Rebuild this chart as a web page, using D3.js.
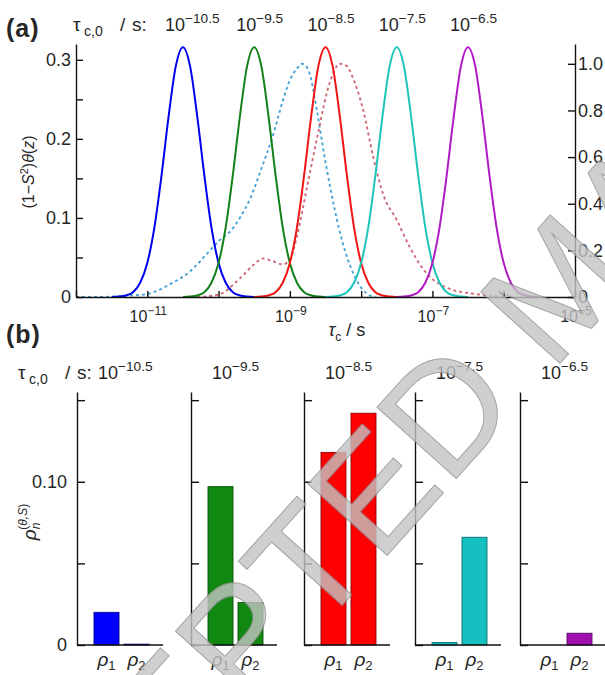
<!DOCTYPE html>
<html><head><meta charset="utf-8">
<script src="https://cdn.jsdelivr.net/npm/d3@7"></script>
<style>
body{margin:0;background:#fff}
svg{display:block}
text{font-family:"Liberation Sans",Arial,Helvetica,sans-serif;fill:#262626}
</style>
</head><body><svg id="c" width="605" height="675"></svg>
<script>
// ---------------- data ----------------
const tauC0Exp    = [-10.5, -9.5, -8.5, -7.5, -6.5];          // log10(tau_c0 / s)
const tauC0Labels = ["−10.5", "−9.5", "−8.5", "−7.5", "−6.5"];
const lineColors  = ["#0000ee", "#13801a", "#f01414", "#1ec4bc", "#b01ac4"];
const barColors   = ["#0000ff", "#118811", "#ff0000", "#14c0c0", "#a010b0"];

// shape of each solid peak: offset (decades) from tau_c0 -> (1-S^2)theta(z)
const profileOffset = [-1.0,-0.9,-0.8,-0.7,-0.6,-0.5,-0.4,-0.3,-0.2,-0.1,0,0.1,0.2,0.3,0.4,0.5,0.6,0.7,0.8,0.9,1.0];
const profileValue  = [0,0.0005,0.002,0.006,0.018,0.043,0.088,0.154,0.229,0.292,0.316,0.292,0.229,0.154,0.088,0.043,0.018,0.006,0.002,0.0005,0];

// dashed curves (right axis)
const dashBlueLogTau = [-12,-11.66,-11.3,-11.0,-10.68,-10.4,-10.12,-9.98,-9.84,-9.7,-9.56,-9.4,-9.24,-9.1,-9.0,-8.9,-8.83,-8.75,-8.62,-8.54,-8.44,-8.3,-8.15,-8.0,-7.9,-7.8];
const dashBlueValue  = [0,0,0.005,0.013,0.055,0.11,0.2,0.245,0.28,0.34,0.42,0.55,0.69,0.84,0.93,0.98,1.0,0.98,0.80,0.65,0.48,0.28,0.13,0.04,0.01,0];
const dashRedLogTau  = [-10.3,-10.0,-9.7,-9.5,-9.38,-9.25,-9.1,-9.0,-8.9,-8.76,-8.62,-8.44,-8.3,-8.2,-8.13,-7.97,-7.83,-7.69,-7.5,-7.32,-7.13,-6.8,-6.33,-6.0];
const dashRedValue   = [0,0.01,0.08,0.14,0.165,0.155,0.14,0.16,0.26,0.47,0.68,0.92,1.0,0.99,0.95,0.80,0.60,0.44,0.33,0.215,0.12,0.04,0.01,0];

// axis ticks
const leftTicks   = [0,0.05,0.1,0.15,0.2,0.25,0.3];
const leftLabels  = {0:"0",0.1:"0.1",0.2:"0.2",0.3:"0.3"};
const rightTicks  = [0,0.2,0.4,0.6,0.8,1.0];
const rightLabels = ["0","0.2","0.4","0.6","0.8","1.0"];
const decadeTicks = [-12,-11,-10,-9,-8,-7,-6,-5];
const decadeLabels= [-11,-9,-7,-5];

// panel (b) bars
const barNames = ["ρ1","ρ2"];
const rho1 = [0.020, 0.097, 0.118, 0.0015, 0];
const rho2 = [0.0005, 0.026, 0.142, 0.066, 0.0072];
const barTicks = [0,0.05,0.10,0.15];

// ---------------- drawing ----------------
const svg = d3.select("#c");
const AX = "#111";
const FS = 18;

function sup(sel, x, y, base, exp, fs, anchor){
  const t = sel.append("text").attr("x",x).attr("y",y).attr("font-size",fs).attr("text-anchor",anchor||"start");
  t.append("tspan").text(base);
  t.append("tspan").attr("dy",-fs*0.42).attr("font-size",fs*0.76).text(exp);
  return t;
}
function tauC0Title(x, y){
  const t = svg.append("text").attr("y",y).attr("font-size",19);
  t.append("tspan").attr("x",x).text("τ");
  t.append("tspan").attr("x",x+11).attr("dy",5).attr("font-size",14).text("c,0");
  t.append("tspan").attr("x",x+47).attr("dy",-5).text("/");
  t.append("tspan").attr("x",x+59).text("s:");
}

// ----- panel (a) -----
const xA = d3.scaleLinear().domain([-12,-5]).range([76,575]);
const yA = d3.scaleLinear().domain([0,0.32]).range([297,44]);
const yR = d3.scaleLinear().domain([0,1.085]).range([297,44]);

const gA = svg.append("g");
const line = d3.line().x(d=>xA(d[0])).y(d=>yA(d[1])).curve(d3.curveMonotoneX);
const lineR = d3.line().x(d=>xA(d[0])).y(d=>yR(d[1])).curve(d3.curveMonotoneX);

// dashed
gA.append("path").datum(dashBlueLogTau.map((t,i)=>[t,dashBlueValue[i]]))
  .attr("d",lineR).attr("fill","none").attr("stroke","#4aa3d6").attr("stroke-width",1.9).attr("stroke-dasharray","3,3");
gA.append("path").datum(dashRedLogTau.map((t,i)=>[t,dashRedValue[i]]))
  .attr("d",lineR).attr("fill","none").attr("stroke","#cf6a78").attr("stroke-width",1.9).attr("stroke-dasharray","3,3");

// solid peaks
tauC0Exp.forEach((c,k)=>{
  gA.append("path").datum(profileOffset.map((o,i)=>[c+o, profileValue[i]]))
    .attr("d",line).attr("fill","none").attr("stroke",lineColors[k]).attr("stroke-width",2);
});

// axes
const axL = gA.append("g").attr("transform",`translate(${xA(-12)},0)`)
  .call(d3.axisLeft(yA).tickValues(leftTicks).tickSize(-7).tickSizeOuter(0).tickPadding(5)
    .tickFormat(d=>leftLabels[d]!==undefined?leftLabels[d]:""));
const axR = gA.append("g").attr("transform",`translate(${xA(-5)},0)`)
  .call(d3.axisRight(yR).tickValues(rightTicks).tickSize(-7).tickSizeOuter(0).tickPadding(3)
    .tickFormat((d,i)=>rightLabels[i]));
const axB = gA.append("g").attr("transform",`translate(0,${yA(0)})`)
  .call(d3.axisBottom(xA).tickValues(decadeTicks).tickSize(-6).tickSizeOuter(0).tickFormat(""));
[axL,axR,axB].forEach(a=>{
  a.selectAll("path,line").attr("stroke",AX).attr("stroke-width",1.4);
  a.selectAll("text").attr("font-size",FS).attr("fill","#333").style("font-family","Liberation Sans, Arial, sans-serif");
});
decadeLabels.forEach(e=>{
  sup(gA, xA(e)+1, 322, "10", "−"+Math.abs(e), 16, "middle");
});
// x label
{
  const t = gA.append("text").attr("x",xA(-8.2)).attr("y",336).attr("font-size",18).attr("text-anchor","middle");
  t.append("tspan").attr("font-style","italic").text("τ");
  t.append("tspan").attr("dy",5).attr("font-size",12).text("c");
  t.append("tspan").attr("dy",-5).text(" / s");
}
// y label
{
  const t = gA.append("text").attr("transform","translate(34,172) rotate(-90)").attr("font-size",16).attr("text-anchor","middle");
  t.append("tspan").text("(1−");
  t.append("tspan").attr("font-style","italic").text("S");
  t.append("tspan").attr("dy",-6).attr("font-size",11).text("2");
  t.append("tspan").attr("dy",6).text(")");
  t.append("tspan").attr("font-style","italic").text("θ");
  t.append("tspan").text("(");
  t.append("tspan").attr("font-style","italic").text("z");
  t.append("tspan").text(")");
}
// titles
svg.append("text").attr("x",6).attr("y",37).attr("font-size",25).attr("font-weight","bold").attr("letter-spacing",1).text("(a)");
tauC0Title(73, 31);
tauC0Exp.forEach((c,k)=> sup(svg, xA(c)-18, 31, "10", tauC0Labels[k], 18, "start"));

// ----- panel (b) -----
const panelX = [77, 191, 304, 415, 520];
const panelW = 86;
const yB = d3.scaleLinear().domain([0,0.155]).range([645,392]);
const xIn = d3.scaleBand().domain(barNames).range([17,72]).paddingInner(5/30).paddingOuter(0);

svg.append("text").attr("x",6).attr("y",343).attr("font-size",25).attr("font-weight","bold").attr("letter-spacing",1).text("(b)");
tauC0Title(18, 379);

panelX.forEach((px,k)=>{
  const g = svg.append("g").attr("transform",`translate(${px},0)`);
  const vals = [rho1[k], rho2[k]];
  g.selectAll("rect").data(vals).join("rect")
    .attr("x",(d,i)=>xIn(barNames[i])).attr("width",xIn.bandwidth())
    .attr("y",d=>yB(d)).attr("height",d=>yB(0)-yB(d))
    .attr("fill",barColors[k])
    .attr("stroke",d3.color(barColors[k]).darker(1.6)).attr("stroke-width",0.9);
  const ax = g.append("g").call(d3.axisLeft(yB).tickValues(barTicks).tickSize(-8).tickSizeOuter(0).tickPadding(10)
    .tickFormat(d=> k===0 ? (d===0?"0":(Math.abs(d-0.1)<1e-9?"0.10":"")) : ""));
  ax.selectAll("path,line").attr("stroke",AX).attr("stroke-width",1.4);
  ax.selectAll("text").attr("font-size",FS).attr("fill","#333").style("font-family","Liberation Sans, Arial, sans-serif");
  g.append("line").attr("x1",0).attr("x2",k===4?panelW+4:panelW).attr("y1",yB(0)).attr("y2",yB(0))
    .attr("stroke",AX).attr("stroke-width",1.4);
  barNames.forEach((n,i)=>{
    const t = g.append("text").attr("x",xIn(n)+xIn.bandwidth()/2).attr("y",666).attr("font-size",19).attr("text-anchor","middle");
    t.append("tspan").attr("font-style","italic").text("ρ");
    t.append("tspan").attr("dy",4).attr("font-size",13).text(n.slice(1));
  });
  sup(svg, px+21, 379, "10", tauC0Labels[k], 18, "start");
});
// y label (b)
{
  const t = svg.append("text").attr("transform","translate(36,522) rotate(-90)").attr("font-size",19).attr("text-anchor","middle");
  t.append("tspan").attr("font-style","italic").text("ρ");
  t.append("tspan").attr("dy",4).attr("font-size",12).attr("font-style","italic").text("n");
  t.append("tspan").attr("dy",-13).attr("dx",-7).attr("font-size",12).text("(");
  t.append("tspan").attr("font-size",12).attr("font-style","italic").text("θ,S");
  t.append("tspan").attr("font-size",12).text(")");
}

// ----- watermark -----
svg.append("text").attr("transform","translate(-42,1032) rotate(-48)")
  .attr("font-size",155).style("fill","#c4c4c4").attr("opacity",0.8)
  .attr("stroke","#8e8e8e").attr("stroke-width",1)
  .text("ACCEPTED MANUSCRIPT");
</script>
</body></html>
